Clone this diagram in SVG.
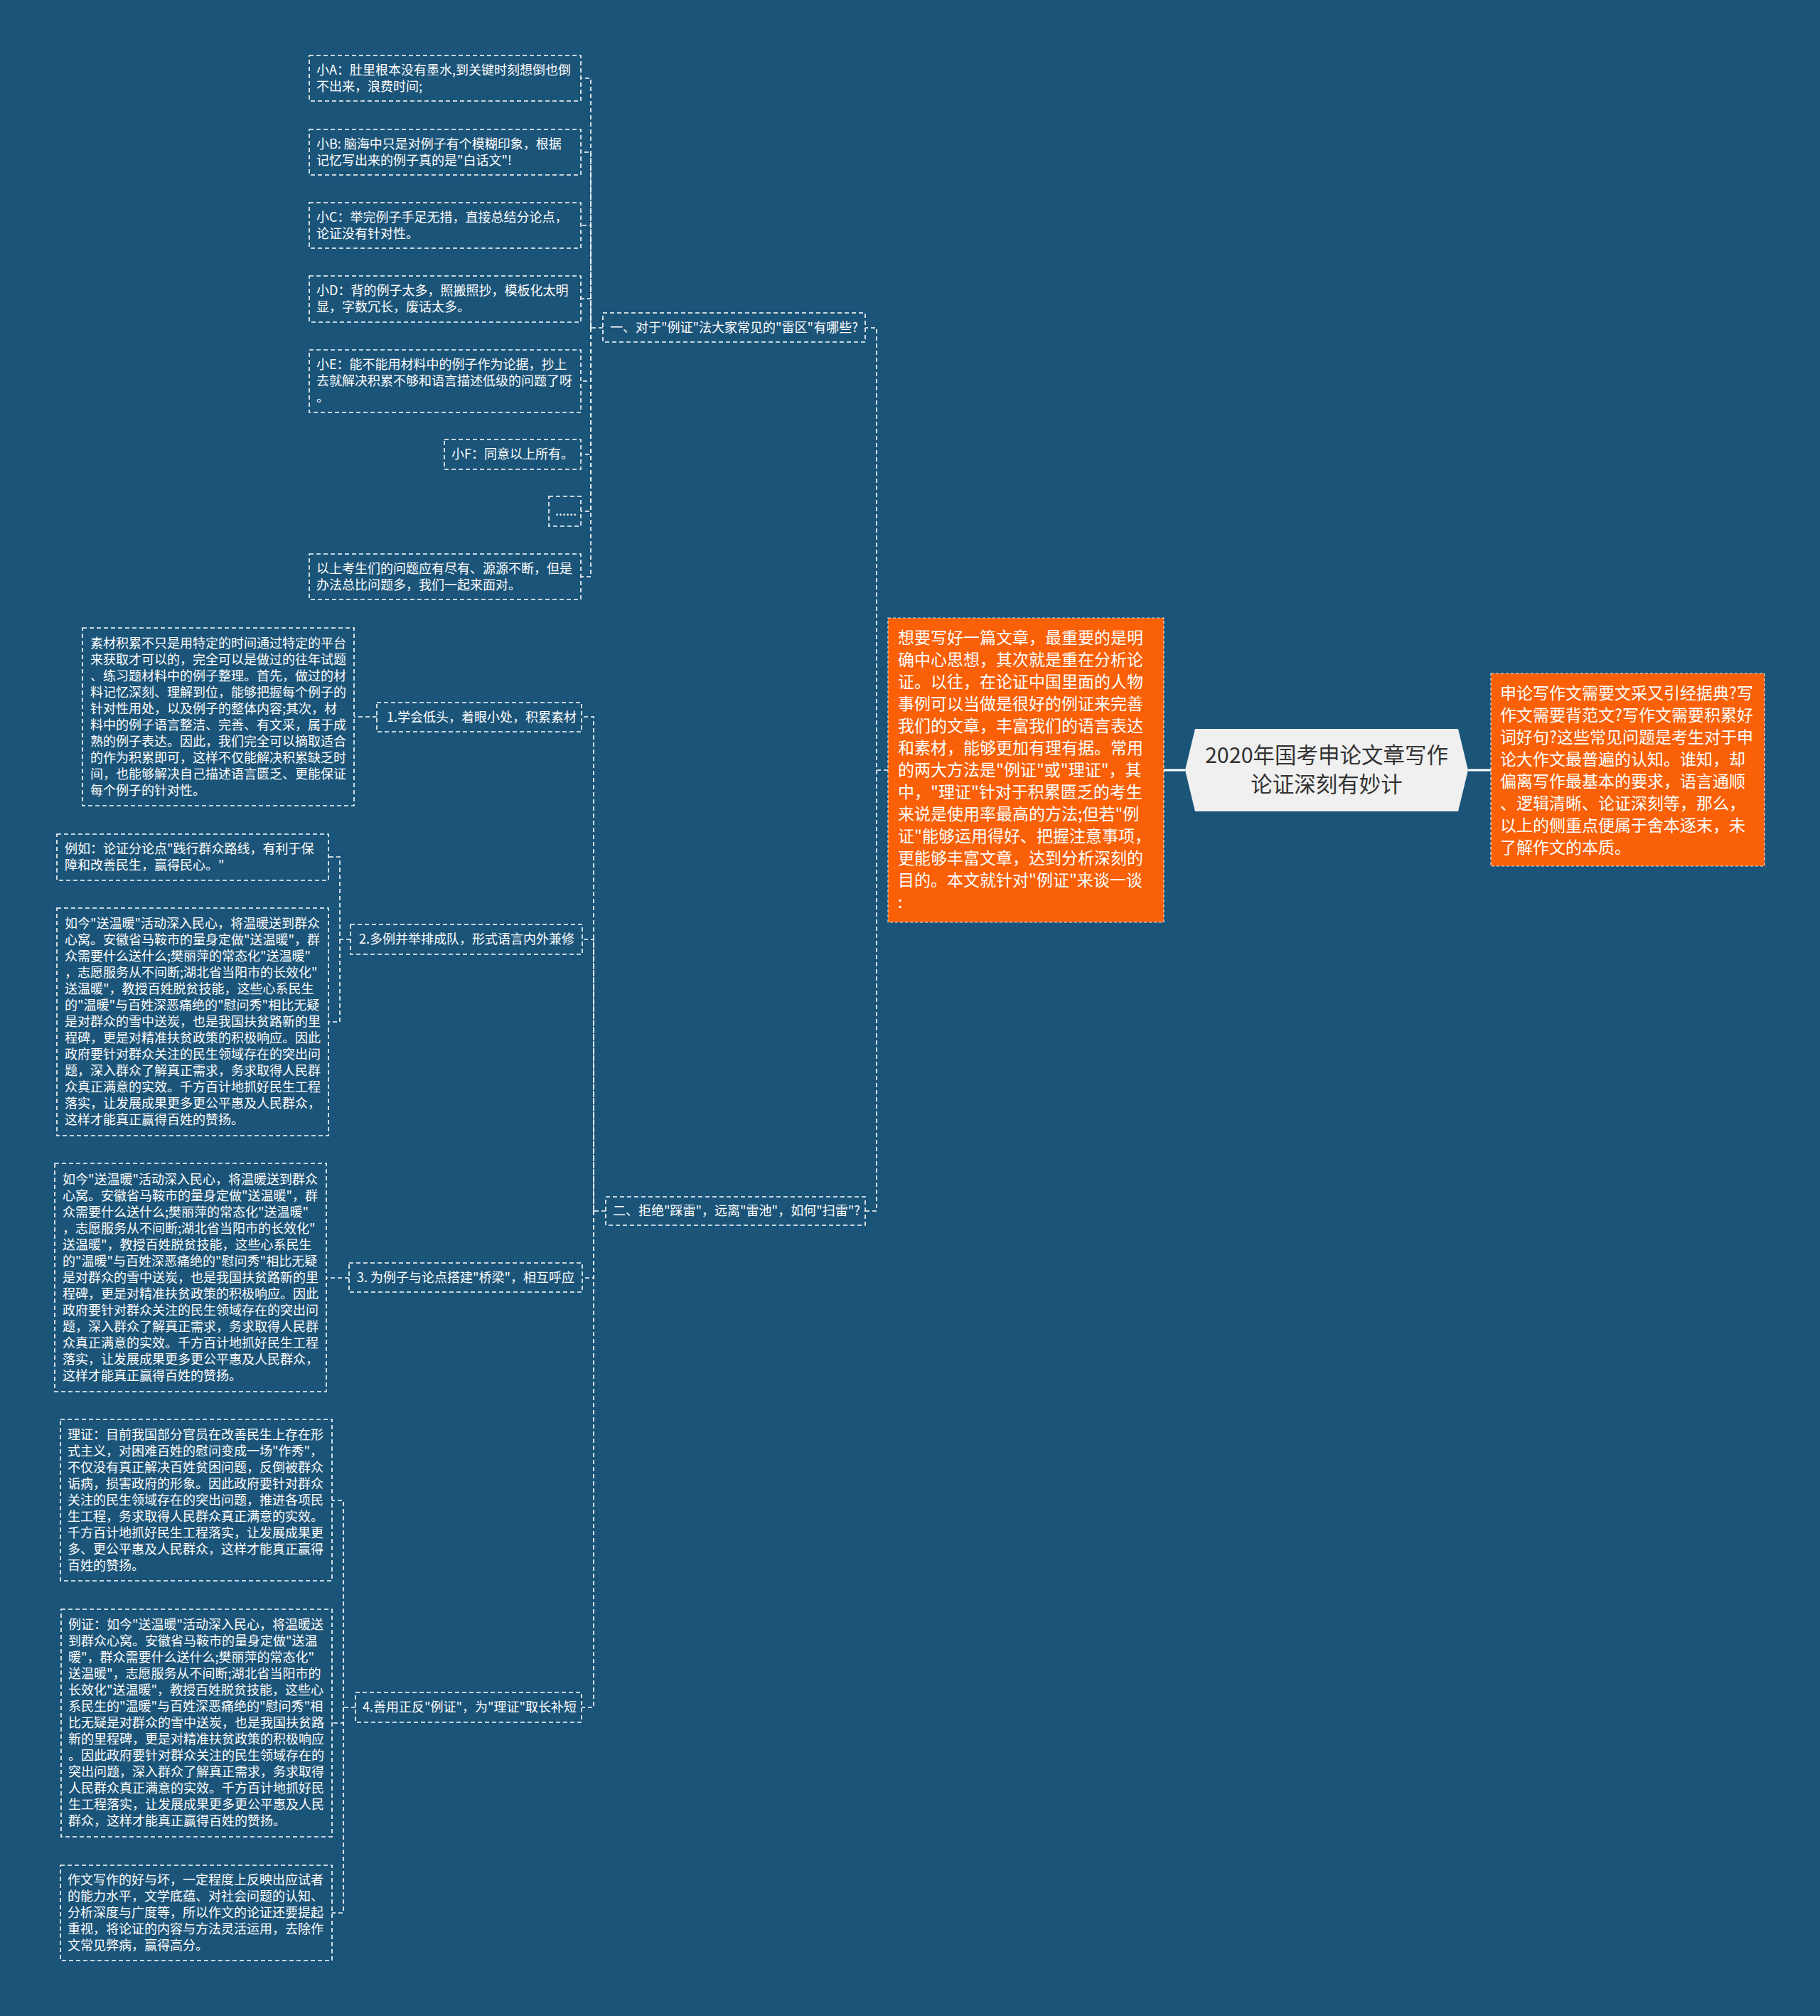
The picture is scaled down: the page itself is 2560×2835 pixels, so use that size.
<svg xmlns="http://www.w3.org/2000/svg" width="2560" height="2835" viewBox="0 0 2560 2835">
<style>
.box{fill:none;stroke:#ffffff;stroke-width:1.6;stroke-dasharray:6 4}
.t{font-family:"Noto Sans CJK SC","Noto Sans",sans-serif;font-size:18px;fill:#ffffff}
.ob{fill:#f96007;stroke:#ffffff;stroke-width:1.2;stroke-dasharray:4 3;stroke-opacity:0.85}
.ot{font-family:"Noto Sans CJK SC","Noto Sans",sans-serif;font-size:23px;fill:#ffffff}
.conn{fill:none;stroke:#ffffff;stroke-width:1.6;stroke-dasharray:6 4}
.solid{fill:none;stroke:#ffffff;stroke-width:3}
.title{font-family:"Noto Sans CJK SC","Noto Sans",sans-serif;font-size:30.5px;fill:#333333;text-anchor:middle}
</style>
<rect x="0" y="0" width="2560" height="2835" fill="#1b5479"/>

<g id="connectors">
<path class="solid" d="M1636,1083 H1667"/>
<path class="solid" d="M2065,1083 H2097"/>
<path class="conn" d="M1249,1083 H1233 V461 H1217"/>
<path class="conn" d="M1233,1083 V1703 H1217"/>
<path class="conn" d="M848,461 H831 V110 H817"/>
<path class="conn" d="M831,461 V214 H817"/>
<path class="conn" d="M831,461 V317 H817"/>
<path class="conn" d="M831,461 V420 H817"/>
<path class="conn" d="M831,461 V536 H817"/>
<path class="conn" d="M831,461 V639 H817"/>
<path class="conn" d="M831,461 V719 H817"/>
<path class="conn" d="M831,461 V811 H817"/>
<path class="conn" d="M852,1703 H835 V1008 H818"/>
<path class="conn" d="M835,1703 V1321 H819"/>
<path class="conn" d="M835,1703 V1797 H819"/>
<path class="conn" d="M835,1703 V2401 H818"/>
<path class="conn" d="M530,1008 H498"/>
<path class="conn" d="M493,1321 H478 V1205 H462"/>
<path class="conn" d="M478,1321 V1437 H462"/>
<path class="conn" d="M491,1797 H459"/>
<path class="conn" d="M500,2401 H483 V2110 H467"/>
<path class="conn" d="M483,2401 V2423 H467"/>
<path class="conn" d="M483,2401 V2690 H467"/>
</g>

<g id="root">
<polygon points="1681,1025 2051,1025 2065,1083 2051,1141 1681,1141 1667,1083" fill="#f0f0f0"/>
<text class="title"><tspan x="1866" y="1073">2020年国考申论文章写作</tspan><tspan x="1866" y="1114">论证深刻有妙计</tspan></text>
</g>

<g id="intro-right">
<rect class="ob" x="2097" y="947" width="385" height="271"/>
<text class="ot">
<tspan x="2110" y="983">申论写作文需要文采又引经据典?写</tspan>
<tspan x="2110" y="1014">作文需要背范文?写作文需要积累好</tspan>
<tspan x="2110" y="1045">词好句?这些常见问题是考生对于申</tspan>
<tspan x="2110" y="1076">论大作文最普遍的认知。谁知，却</tspan>
<tspan x="2110" y="1107">偏离写作最基本的要求，语言通顺</tspan>
<tspan x="2110" y="1138">、逻辑清晰、论证深刻等，那么，</tspan>
<tspan x="2110" y="1169">以上的侧重点便属于舍本逐末，未</tspan>
<tspan x="2110" y="1200">了解作文的本质。</tspan>
</text>
</g>

<g id="intro-left">
<rect class="ob" x="1249" y="869" width="388" height="428"/>
<text class="ot">
<tspan x="1263" y="905">想要写好一篇文章，最重要的是明</tspan>
<tspan x="1263" y="936">确中心思想，其次就是重在分析论</tspan>
<tspan x="1263" y="967">证。以往，在论证中国里面的人物</tspan>
<tspan x="1263" y="998">事例可以当做是很好的例证来完善</tspan>
<tspan x="1263" y="1029">我们的文章，丰富我们的语言表达</tspan>
<tspan x="1263" y="1060">和素材，能够更加有理有据。常用</tspan>
<tspan x="1263" y="1091">的两大方法是"例证"或"理证"，其</tspan>
<tspan x="1263" y="1122">中，"理证"针对于积累匮乏的考生</tspan>
<tspan x="1263" y="1153">来说是使用率最高的方法;但若"例</tspan>
<tspan x="1263" y="1184">证"能够运用得好、把握注意事项，</tspan>
<tspan x="1263" y="1215">更能够丰富文章，达到分析深刻的</tspan>
<tspan x="1263" y="1246">目的。本文就针对"例证"来谈一谈</tspan>
<tspan x="1263" y="1277">:</tspan>
</text>
</g>

<g id="branch1">
<rect class="box" x="848" y="440" width="369" height="41"/>
<text class="t" x="858" y="467">一、对于"例证"法大家常见的"雷区"有哪些?</text>
</g>
<g id="branch2">
<rect class="box" x="852" y="1683" width="365" height="40"/>
<text class="t" x="862" y="1709">二、拒绝"踩雷"，远离"雷池"，如何"扫雷"?</text>
</g>

<g id="xa">
<rect class="box" x="435" y="78" width="382" height="64"/>
<text class="t"><tspan x="445" y="105">小A：肚里根本没有墨水,到关键时刻想倒也倒</tspan><tspan x="445" y="128">不出来，浪费时间;</tspan></text>
</g>
<g id="xb">
<rect class="box" x="435" y="182" width="382" height="64"/>
<text class="t"><tspan x="445" y="209">小B: 脑海中只是对例子有个模糊印象，根据</tspan><tspan x="445" y="232">记忆写出来的例子真的是"白话文"!</tspan></text>
</g>
<g id="xc">
<rect class="box" x="435" y="285" width="382" height="64"/>
<text class="t"><tspan x="445" y="312">小C：举完例子手足无措，直接总结分论点，</tspan><tspan x="445" y="335">论证没有针对性。</tspan></text>
</g>
<g id="xd">
<rect class="box" x="435" y="388" width="382" height="65"/>
<text class="t"><tspan x="445" y="415">小D：背的例子太多，照搬照抄，模板化太明</tspan><tspan x="445" y="438">显，字数冗长，废话太多。</tspan></text>
</g>
<g id="xe">
<rect class="box" x="435" y="492" width="382" height="88"/>
<text class="t"><tspan x="445" y="519">小E：能不能用材料中的例子作为论据，抄上</tspan><tspan x="445" y="542">去就解决积累不够和语言描述低级的问题了呀</tspan><tspan x="445" y="565">。</tspan></text>
</g>
<g id="xf">
<rect class="box" x="625" y="618" width="192" height="42"/>
<text class="t" x="635" y="645">小F：同意以上所有。</text>
</g>
<g id="dots">
<rect class="box" x="772" y="698" width="45" height="42"/>
<text class="t" x="781" y="725">......</text>
</g>
<g id="summary1">
<rect class="box" x="435" y="779" width="382" height="64"/>
<text class="t"><tspan x="445" y="806">以上考生们的问题应有尽有、源源不断，但是</tspan><tspan x="445" y="829">办法总比问题多，我们一起来面对。</tspan></text>
</g>

<g id="s1">
<rect class="box" x="530" y="988" width="288" height="41"/>
<text class="t" x="544" y="1015">1.学会低头，着眼小处，积累素材</text>
</g>
<g id="s1a">
<rect class="box" x="116" y="883" width="382" height="250"/>
<text class="t">
<tspan x="127" y="911">素材积累不只是用特定的时间通过特定的平台</tspan>
<tspan x="127" y="934">来获取才可以的，完全可以是做过的往年试题</tspan>
<tspan x="127" y="957">、练习题材料中的例子整理。首先，做过的材</tspan>
<tspan x="127" y="980">料记忆深刻、理解到位，能够把握每个例子的</tspan>
<tspan x="127" y="1003">针对性用处，以及例子的整体内容;其次，材</tspan>
<tspan x="127" y="1026">料中的例子语言整洁、完善、有文采，属于成</tspan>
<tspan x="127" y="1049">熟的例子表达。因此，我们完全可以摘取适合</tspan>
<tspan x="127" y="1072">的作为积累即可，这样不仅能解决积累缺乏时</tspan>
<tspan x="127" y="1095">间，也能够解决自己描述语言匮乏、更能保证</tspan>
<tspan x="127" y="1118">每个例子的针对性。</tspan>
</text>
</g>

<g id="s2">
<rect class="box" x="493" y="1300" width="326" height="42"/>
<text class="t" x="505" y="1327">2.多例并举排成队，形式语言内外兼修</text>
</g>
<g id="s2a">
<rect class="box" x="80" y="1173" width="382" height="65"/>
<text class="t"><tspan x="91" y="1200">例如：论证分论点"践行群众路线，有利于保</tspan><tspan x="91" y="1223">障和改善民生，赢得民心。"</tspan></text>
</g>
<g id="s2b">
<rect class="box" x="80" y="1277" width="382" height="320"/>
<text class="t">
<tspan x="91" y="1305">如今"送温暖"活动深入民心，将温暖送到群众</tspan>
<tspan x="91" y="1328">心窝。安徽省马鞍市的量身定做"送温暖"，群</tspan>
<tspan x="91" y="1351">众需要什么送什么;樊丽萍的常态化"送温暖"</tspan>
<tspan x="91" y="1374">，志愿服务从不间断;湖北省当阳市的长效化"</tspan>
<tspan x="91" y="1397">送温暖"，教授百姓脱贫技能，这些心系民生</tspan>
<tspan x="91" y="1420">的"温暖"与百姓深恶痛绝的"慰问秀"相比无疑</tspan>
<tspan x="91" y="1443">是对群众的雪中送炭，也是我国扶贫路新的里</tspan>
<tspan x="91" y="1466">程碑，更是对精准扶贫政策的积极响应。因此</tspan>
<tspan x="91" y="1489">政府要针对群众关注的民生领域存在的突出问</tspan>
<tspan x="91" y="1512">题，深入群众了解真正需求，务求取得人民群</tspan>
<tspan x="91" y="1535">众真正满意的实效。千方百计地抓好民生工程</tspan>
<tspan x="91" y="1558">落实，让发展成果更多更公平惠及人民群众，</tspan>
<tspan x="91" y="1581">这样才能真正赢得百姓的赞扬。</tspan>
</text>
</g>

<g id="s3">
<rect class="box" x="491" y="1776" width="328" height="41"/>
<text class="t" x="502" y="1803">3. 为例子与论点搭建"桥梁"，相互呼应</text>
</g>
<g id="s3a">
<rect class="box" x="77" y="1636" width="382" height="321"/>
<text class="t">
<tspan x="88" y="1665">如今"送温暖"活动深入民心，将温暖送到群众</tspan>
<tspan x="88" y="1688">心窝。安徽省马鞍市的量身定做"送温暖"，群</tspan>
<tspan x="88" y="1711">众需要什么送什么;樊丽萍的常态化"送温暖"</tspan>
<tspan x="88" y="1734">，志愿服务从不间断;湖北省当阳市的长效化"</tspan>
<tspan x="88" y="1757">送温暖"，教授百姓脱贫技能，这些心系民生</tspan>
<tspan x="88" y="1780">的"温暖"与百姓深恶痛绝的"慰问秀"相比无疑</tspan>
<tspan x="88" y="1803">是对群众的雪中送炭，也是我国扶贫路新的里</tspan>
<tspan x="88" y="1826">程碑，更是对精准扶贫政策的积极响应。因此</tspan>
<tspan x="88" y="1849">政府要针对群众关注的民生领域存在的突出问</tspan>
<tspan x="88" y="1872">题，深入群众了解真正需求，务求取得人民群</tspan>
<tspan x="88" y="1895">众真正满意的实效。千方百计地抓好民生工程</tspan>
<tspan x="88" y="1918">落实，让发展成果更多更公平惠及人民群众，</tspan>
<tspan x="88" y="1941">这样才能真正赢得百姓的赞扬。</tspan>
</text>
</g>

<g id="s4">
<rect class="box" x="500" y="2380" width="318" height="42"/>
<text class="t" x="510" y="2407">4.善用正反"例证"，为"理证"取长补短</text>
</g>
<g id="s4a">
<rect class="box" x="85" y="1996" width="382" height="227"/>
<text class="t">
<tspan x="95" y="2024">理证：目前我国部分官员在改善民生上存在形</tspan>
<tspan x="95" y="2047">式主义，对困难百姓的慰问变成一场"作秀"，</tspan>
<tspan x="95" y="2070">不仅没有真正解决百姓贫困问题，反倒被群众</tspan>
<tspan x="95" y="2093">诟病，损害政府的形象。因此政府要针对群众</tspan>
<tspan x="95" y="2116">关注的民生领域存在的突出问题，推进各项民</tspan>
<tspan x="95" y="2139">生工程，务求取得人民群众真正满意的实效。</tspan>
<tspan x="95" y="2162">千方百计地抓好民生工程落实，让发展成果更</tspan>
<tspan x="95" y="2185">多、更公平惠及人民群众，这样才能真正赢得</tspan>
<tspan x="95" y="2208">百姓的赞扬。</tspan>
</text>
</g>
<g id="s4b">
<rect class="box" x="86" y="2263" width="381" height="320"/>
<text class="t">
<tspan x="96" y="2291">例证：如今"送温暖"活动深入民心，将温暖送</tspan>
<tspan x="96" y="2314">到群众心窝。安徽省马鞍市的量身定做"送温</tspan>
<tspan x="96" y="2337">暖"，群众需要什么送什么;樊丽萍的常态化"</tspan>
<tspan x="96" y="2360">送温暖"，志愿服务从不间断;湖北省当阳市的</tspan>
<tspan x="96" y="2383">长效化"送温暖"，教授百姓脱贫技能，这些心</tspan>
<tspan x="96" y="2406">系民生的"温暖"与百姓深恶痛绝的"慰问秀"相</tspan>
<tspan x="96" y="2429">比无疑是对群众的雪中送炭，也是我国扶贫路</tspan>
<tspan x="96" y="2452">新的里程碑，更是对精准扶贫政策的积极响应</tspan>
<tspan x="96" y="2475">。因此政府要针对群众关注的民生领域存在的</tspan>
<tspan x="96" y="2498">突出问题，深入群众了解真正需求，务求取得</tspan>
<tspan x="96" y="2521">人民群众真正满意的实效。千方百计地抓好民</tspan>
<tspan x="96" y="2544">生工程落实，让发展成果更多更公平惠及人民</tspan>
<tspan x="96" y="2567">群众，这样才能真正赢得百姓的赞扬。</tspan>
</text>
</g>
<g id="s4c">
<rect class="box" x="85" y="2623" width="382" height="134"/>
<text class="t">
<tspan x="95" y="2650">作文写作的好与坏，一定程度上反映出应试者</tspan>
<tspan x="95" y="2673">的能力水平，文学底蕴、对社会问题的认知、</tspan>
<tspan x="95" y="2696">分析深度与广度等，所以作文的论证还要提起</tspan>
<tspan x="95" y="2719">重视，将论证的内容与方法灵活运用，去除作</tspan>
<tspan x="95" y="2742">文常见弊病，赢得高分。</tspan>
</text>
</g>
</svg>
